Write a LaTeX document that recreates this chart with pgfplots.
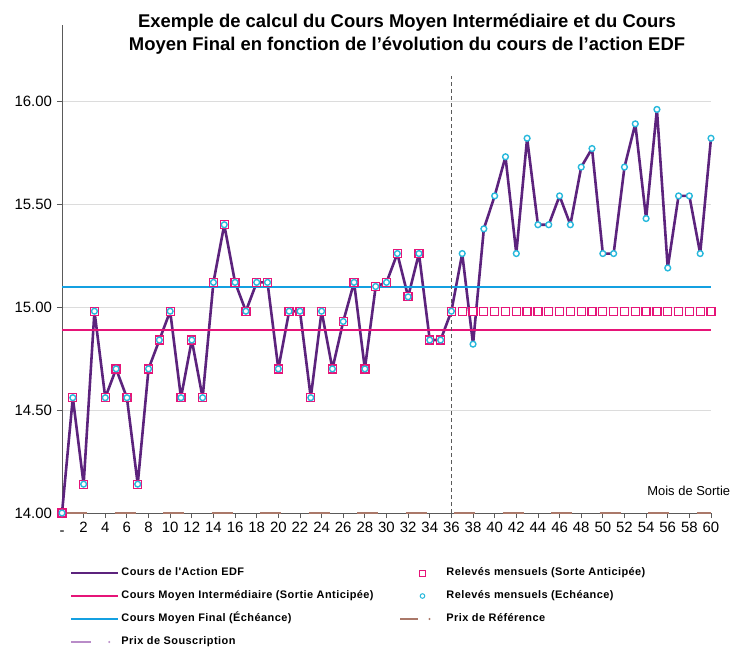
\documentclass[border=0pt]{standalone}
\usepackage{pgfplots}
\pgfplotsset{compat=1.18}
\usepackage{pgfplotstable}
\usepackage{fontspec}
\setmainfont{Liberation Sans}
\newfontfamily\legfont[LetterSpace=4]{Liberation Sans}
\definecolor{cAction}{RGB}{92,35,125}
\definecolor{cPink}{RGB}{230,20,120}
\definecolor{cBlue}{RGB}{20,160,225}
\definecolor{cCyan}{RGB}{40,185,220}
\definecolor{cBrown}{RGB}{170,120,105}
\definecolor{cLilac}{RGB}{185,140,200}
\definecolor{cGrid}{RGB}{220,220,220}
\definecolor{cAxis}{RGB}{90,90,90}

\pgfplotstableread{
x action anticip
0 14.00 14.00
1 14.56 14.56
2 14.14 14.14
3 14.98 14.98
4 14.56 14.56
5 14.70 14.70
6 14.56 14.56
7 14.14 14.14
8 14.70 14.70
9 14.84 14.84
10 14.98 14.98
11 14.56 14.56
12 14.84 14.84
13 14.56 14.56
14 15.12 15.12
15 15.40 15.40
16 15.12 15.12
17 14.98 14.98
18 15.12 15.12
19 15.12 15.12
20 14.70 14.70
21 14.98 14.98
22 14.98 14.98
23 14.56 14.56
24 14.98 14.98
25 14.70 14.70
26 14.93 14.93
27 15.12 15.12
28 14.70 14.70
29 15.10 15.10
30 15.12 15.12
31 15.26 15.26
32 15.05 15.05
33 15.26 15.26
34 14.84 14.84
35 14.84 14.84
36 14.98 14.98
37 15.26 14.98
38 14.82 14.98
39 15.38 14.98
40 15.54 14.98
41 15.73 14.98
42 15.26 14.98
43 15.82 14.98
44 15.40 14.98
45 15.40 14.98
46 15.54 14.98
47 15.40 14.98
48 15.68 14.98
49 15.77 14.98
50 15.26 14.98
51 15.26 14.98
52 15.68 14.98
53 15.89 14.98
54 15.43 14.98
55 15.96 14.98
56 15.19 14.98
57 15.54 14.98
58 15.54 14.98
59 15.26 14.98
60 15.82 14.98
}\data

\pgfplotsset{
  leglineA/.style={legend image code/.code={\draw[##1] (0bp,0bp) -- (47bp,0bp);}},
  legdotA/.style={legend image code/.code={\path[draw=none] (0bp,0bp) -- (47bp,0bp); \draw[##1] (0bp,0bp) -- (20bp,0bp); \fill[##1, draw=none] (38bp,0bp) circle (1.1bp);}},
  legmarkB/.style={legend image code/.code={\path[draw=none] (0bp,0bp) -- (44bp,0bp); \draw[##1, draw=none] plot[only marks] coordinates {(22bp,0bp)};}},
  legdotB/.style={legend image code/.code={\path[draw=none] (0bp,0bp) -- (44bp,0bp); \draw[##1] (0bp,0bp) -- (18bp,0bp); \fill[##1, draw=none] (29bp,0bp) circle (1.1bp);}},
}
\newcommand\colA[1]{\makebox[276bp][l]{#1}}

\begin{document}
\begin{tikzpicture}
\begin{axis}[
  scale only axis, width=649bp, height=488bp,
  xmin=0, xmax=60, ymin=14, ymax=16.37,
  axis x line*=bottom, axis y line*=left,
  axis line style={cAxis, line width=0.8bp, -},
  xtick={0,2,...,60},
  xticklabels={\raisebox{-3bp}{-},2,4,6,8,10,12,14,16,18,20,22,24,26,28,30,32,34,36,38,40,42,44,46,48,50,52,54,56,58,60},
  ytick={14,14.5,15,15.5,16},
  yticklabel style={xshift=-1.5bp, /pgf/number format/.cd, fixed, fixed zerofill, precision=2},
  /pgf/number format/assume math mode=true,
  ymajorgrids, grid style={cGrid, line width=0.8bp},
  tick align=outside, major tick length=5bp, tick style={cAxis, line width=0.8bp},
  ticklabel style={font=\fontsize{15}{17}\selectfont},
  xticklabel style={text height=11bp},
  clip=false,
  every axis title shift=0pt,
  title={Exemple de calcul du Cours Moyen Intermédiaire et du Cours\\Moyen Final en fonction de l’évolution du cours de l’action EDF},
  title style={at={(0.5316,1.0225)}, anchor=north, align=center, inner sep=0pt, font=\bfseries\fontsize{18.5}{23}\selectfont},
  legend columns=2,
  legend style={draw=none, fill=none, at={(0.0123,-0.1071)}, anchor=north west,
    inner sep=0pt, outer sep=0pt, row sep=7.5bp,
    font=\legfont\bfseries\fontsize{11}{13}\selectfont,
    nodes={inner sep=2bp, text height=8.5bp, text depth=3bp},
    /tikz/every even column/.append style={column sep=0bp}},
  legend cell align=left,
]
\addplot[cAction, line width=2.6bp, line join=round, forget plot] table[x=x,y=action]{\data};
\addplot[cPink, line width=2bp, forget plot] coordinates {(0,14.89) (60,14.89)};
\addplot[cBlue, line width=2bp, forget plot] coordinates {(0,15.10) (60,15.10)};
\addplot[cBrown, line width=2bp, dash pattern=on 21bp off 27.5bp, dash phase=44.5bp, forget plot] coordinates {(0,14) (60,14)};
\addplot[cAxis, line width=1bp, dash pattern=on 4bp off 3bp, forget plot] coordinates {(36,14) (36,16.12)};
\addplot[only marks, mark=square*, mark size=4bp, mark options={draw=cPink, fill=white, line width=1.3bp}, forget plot] table[x=x,y=anticip]{\data};
\addplot[only marks, mark=*, mark size=2.9bp, mark options={draw=cCyan, fill=white, line width=1.4bp}, forget plot] table[x=x,y=action]{\data};

\addlegendimage{cAction, line width=2.5bp, leglineA}
\addlegendentry{\colA{Cours de l'Action EDF}}
\addlegendimage{mark=square*, mark size=3bp, mark options={draw=cPink, fill=white, line width=1bp}, legmarkB}
\addlegendentry{Relevés mensuels (Sorte Anticipée)}
\addlegendimage{cPink, line width=2bp, leglineA}
\addlegendentry{\colA{Cours Moyen Intermédiaire (Sortie Anticipée)}}
\addlegendimage{mark=*, mark size=2.3bp, mark options={draw=cCyan, fill=white, line width=1bp}, legmarkB}
\addlegendentry{Relevés mensuels (Echéance)}
\addlegendimage{cBlue, line width=2bp, leglineA}
\addlegendentry{\colA{Cours Moyen Final (Échéance)}}
\addlegendimage{cBrown, line width=2bp, legdotB}
\addlegendentry{Prix de Référence}
\addlegendimage{cLilac, line width=2bp, legdotA}
\addlegendentry{\colA{Prix de Souscription}}

\node[anchor=west, inner sep=0pt, font=\fontsize{13}{15}\selectfont] at (axis cs:54.1,14.107) {Mois de Sortie};
\end{axis}
\pgfresetboundingbox
\path (current axis.south west) ++(-62bp,-136bp) rectangle ++(732bp,649bp);
\end{tikzpicture}
\end{document}
